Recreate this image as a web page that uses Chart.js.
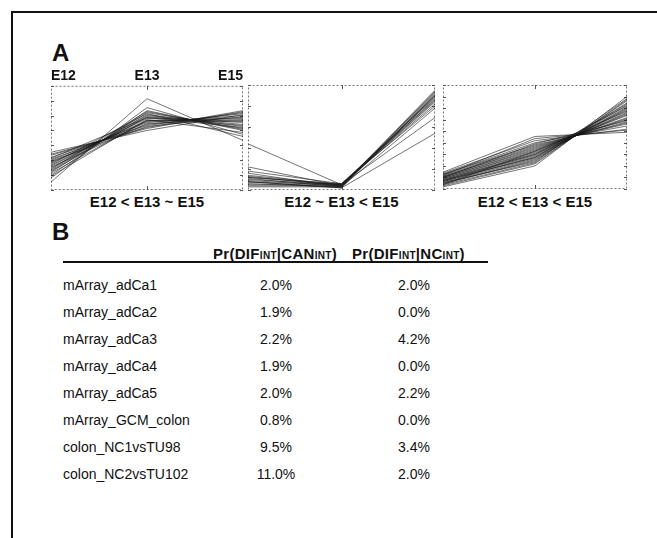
<!DOCTYPE html>
<html>
<head>
<meta charset="utf-8">
<script src="https://cdn.jsdelivr.net/npm/chart.js@4.4.0/dist/chart.umd.min.js"></script>
<style>
  body { margin: 0; background: #fff; width: 657px; height: 538px; position: relative; overflow: hidden;
         font-family: "Liberation Sans", Arial, sans-serif; color: #111; }
  .frame { position: absolute; left: 11px; top: 11px; width: 660px; height: 540px;
           border-left: 2px solid #111; border-top: 2px solid #111; }
  .panel { position: absolute; font-weight: bold; font-size: 24px; line-height: 24px; }
  canvas { position: absolute; }
  .cap { position: absolute; font-weight: bold; font-size: 15px; text-align: center; top: 193px; }
  .rule { position: absolute; left: 63px; top: 261px; width: 425px; height: 2px; background: #111; }
  .head { position: absolute; top: 245px; font-weight: bold; font-size: 15px; white-space: nowrap; letter-spacing: 0.3px; }
  .head small { font-size: 10px; }
  .cell { position: absolute; font-size: 14px; white-space: nowrap; }
</style>
</head>
<body>
<div class="frame"></div>
<div class="panel" style="left:52px;top:41px">A</div>
<canvas id="c1" width="203" height="126" style="left:45px;top:67px"></canvas>
<canvas id="c2" width="197" height="112" style="left:243px;top:80px"></canvas>
<canvas id="c3" width="194" height="112" style="left:438px;top:80px"></canvas>
<div class="cap" style="left:51px;width:192px">E12 &lt; E13 ~ E15</div>
<div class="cap" style="left:248px;width:187px">E12 ~ E13 &lt; E15</div>
<div class="cap" style="left:443px;width:184px">E12 &lt; E13 &lt; E15</div>
<div class="panel" style="left:52px;top:220px">B</div>
<div class="rule"></div>
<div class="head" style="left:213px">Pr(DIF<small>INT</small>|CAN<small>INT</small>)</div>
<div class="head" style="left:352px">Pr(DIF<small>INT</small>|NC<small>INT</small>)</div>
<div id="table"></div>

<script>
/* time points on the x axis */
const stages = ["E12", "E13", "E15"];

/* cluster 1: E12 < E13 ~ E15 (one entry per gene) */
const c1E12 = [8, 12, 15, 18, 20, 22, 24, 25, 27, 28, 30, 31, 33, 35, 36, 38, 14, 19, 23, 26, 29, 21, 17, 32];
const c1E13 = [92, 83, 80, 78, 76, 75, 73, 72, 70, 69, 68, 66, 65, 63, 62, 60, 71, 74, 67, 77, 64, 79, 70, 73];
const c1E15 = [50, 56, 60, 62, 64, 66, 68, 70, 72, 73, 75, 77, 78, 80, 79, 76, 58, 65, 71, 54, 74, 61, 69, 63];

/* cluster 2: E12 ~ E13 < E15 */
const c2E12 = [44, 22, 18, 16, 14, 13, 12, 11, 10, 9, 8, 7, 6, 5, 4, 3, 12, 8];
const c2E13 = [5, 4, 6, 3, 5, 4, 6, 3, 5, 4, 2, 6, 3, 5, 4, 3, 5, 2];
const c2E15 = [90, 95, 88, 92, 85, 93, 86, 90, 82, 87, 91, 80, 94, 84, 89, 78, 69, 54];

/* cluster 3: E12 < E13 < E15 */
const c3E12 = [2, 3, 4, 5, 5, 6, 7, 7, 8, 8, 9, 10, 10, 11, 11, 12, 12, 13, 14, 14, 15, 16, 6, 9, 4, 13, 8, 11];
const c3E13 = [22, 24, 25, 27, 28, 29, 30, 31, 32, 33, 34, 35, 36, 37, 38, 39, 40, 41, 42, 44, 46, 50, 26, 33, 36, 48, 30, 43];
const c3E15 = [88, 85, 84, 82, 80, 78, 77, 76, 75, 73, 72, 71, 70, 68, 67, 66, 64, 63, 62, 60, 57, 54, 86, 79, 74, 56, 81, 65];

/* panel B table */
const dataSets = ["mArray_adCa1", "mArray_adCa2", "mArray_adCa3", "mArray_adCa4",
                  "mArray_adCa5", "mArray_GCM_colon", "colon_NC1vsTU98", "colon_NC2vsTU102"];
const prCan = ["2.0%", "1.9%", "2.2%", "1.9%", "2.0%", "0.8%", "9.5%", "11.0%"];
const prNc  = ["2.0%", "0.0%", "4.2%", "0.0%", "2.2%", "0.0%", "3.4%", "2.0%"];

/* dotted frame + small inward ticks */
const frameTicks = {
  id: "frameTicks",
  beforeDatasetsDraw(chart) {
    const { ctx, chartArea: a, scales } = chart;
    ctx.save();
    ctx.strokeStyle = "#777";
    ctx.lineWidth = 1;
    ctx.setLineDash([2, 2]);
    ctx.strokeRect(a.left + 0.5, a.top + 0.5, a.right - a.left - 1, a.bottom - a.top - 1);
    ctx.setLineDash([]);
    ctx.strokeStyle = "#555";
    ctx.beginPath();
    scales.y.ticks.forEach(t => {
      const y = Math.round(scales.y.getPixelForValue(t.value)) + 0.5;
      ctx.moveTo(a.left, y); ctx.lineTo(a.left + 3, y);
      ctx.moveTo(a.right, y); ctx.lineTo(a.right - 3, y);
    });
    const xm = Math.round(scales.x.getPixelForValue(1)) + 0.5;
    ctx.moveTo(xm, a.top); ctx.lineTo(xm, a.top + 4);
    ctx.moveTo(xm, a.bottom); ctx.lineTo(xm, a.bottom - 4);
    ctx.stroke();
    ctx.restore();
  }
};

function makeCluster(id, e12, e13, e15, yMax, yStep, showStages, pad) {
  const datasets = e12.map((v, i) => ({
    data: [v, e13[i], e15[i]],
    borderColor: "rgba(25,25,25,0.6)",
    borderWidth: 1,
    pointRadius: 0,
    tension: 0
  }));

  return new Chart(document.getElementById(id), {
    type: "line",
    data: { labels: stages, datasets },
    options: {
      responsive: false,
      animation: false,
      layout: { padding: pad },
      plugins: { legend: { display: false }, tooltip: { enabled: false } },
      scales: {
        x: {
          display: showStages,
          position: "top",
          grid: { display: false, drawTicks: false },
          border: { display: false },
          ticks: {
            align: "inner",
            padding: 1,
            color: "#111",
            font: { family: "Liberation Sans", size: 14, weight: "bold" }
          },
          afterFit(scale) {
            scale.paddingLeft = 0;
            scale.paddingRight = 0;
          }
        },
        y: {
          min: 0,
          max: yMax,
          grid: { display: false, drawTicks: false },
          border: { display: false },
          ticks: { display: false, stepSize: yStep }
        }
      }
    },
    plugins: [frameTicks]
  });
}

makeCluster("c1", c1E12, c1E13, c1E15, 105, 15, true, { left: 6, right: 5, top: 0, bottom: 3 });
makeCluster("c2", c2E12, c2E13, c2E15, 100, 20, false, { left: 5, right: 5, top: 5, bottom: 2 });
makeCluster("c3", c3E12, c3E13, c3E15, 99, 11, false, { left: 5, right: 5, top: 5, bottom: 3 });

/* table rows */
const table = document.getElementById("table");
dataSets.forEach((name, i) => {
  const y = 277 + i * 27;
  table.insertAdjacentHTML("beforeend",
    `<div class="cell" style="left:63px;top:${y}px">${name}</div>` +
    `<div class="cell" style="left:236px;width:80px;text-align:center;top:${y}px">${prCan[i]}</div>` +
    `<div class="cell" style="left:374px;width:80px;text-align:center;top:${y}px">${prNc[i]}</div>`);
});
</script>
</body>
</html>
